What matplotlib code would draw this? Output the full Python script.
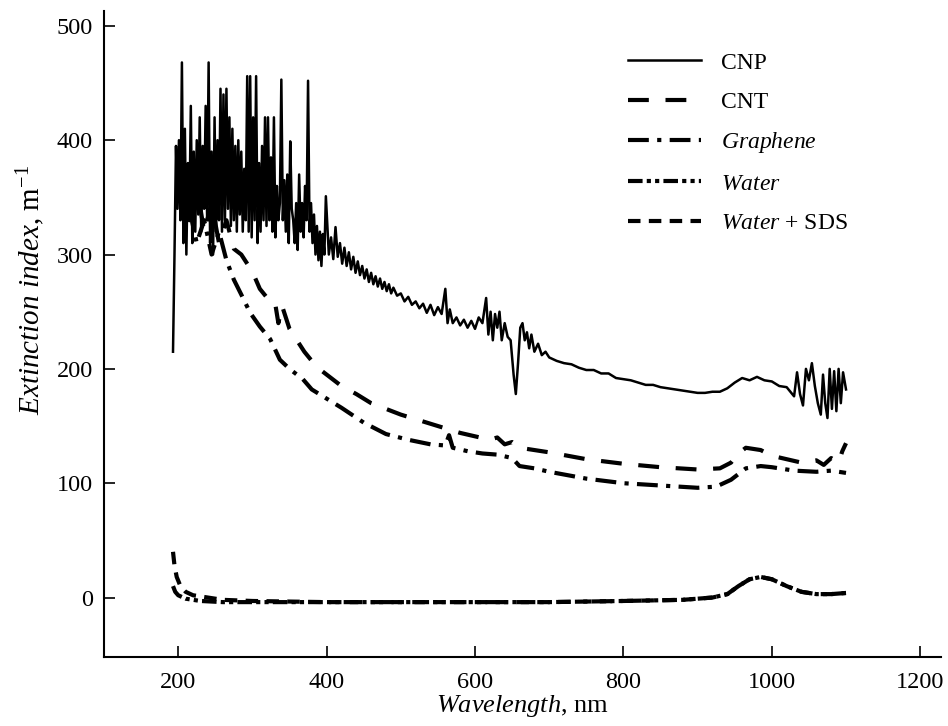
import matplotlib
matplotlib.use("Agg")
import matplotlib.pyplot as plt

plt.rcParams['font.family'] = ['Liberation Serif', 'DejaVu Serif']
plt.rcParams['mathtext.fontset'] = 'custom'
plt.rcParams['mathtext.rm'] = 'Liberation Serif'
plt.rcParams['mathtext.it'] = 'Liberation Serif:italic'

# CNP spectrum: 2 nm grid over the noisy UV part, coarser after that
cnp_nm = list(range(193, 401, 2)) + [
    403, 406, 409, 412, 415, 418, 421, 424, 427, 430, 433, 436, 439, 442, 445, 448,
    451, 454, 457, 460, 463, 466, 469, 472, 475, 478, 481, 484, 487, 490, 495, 500,
    505, 510, 515, 520, 525, 530, 535, 540, 545, 550, 555, 560, 563, 566, 570, 575,
    580, 585, 590, 595, 600, 605, 610, 615, 618, 621, 624, 627, 630, 633, 636, 640,
    644, 648, 652, 655, 658, 661, 664, 667, 670, 673, 676, 680, 685, 690, 695, 700,
    710, 720, 730, 740, 750, 760, 770, 780, 790, 800, 810, 820, 830, 840, 850, 860,
    870, 880, 890, 900, 910, 920, 930, 940, 950, 960, 970, 980, 990, 1000, 1010, 1020,
    1025, 1030, 1034, 1038, 1042, 1046, 1050, 1054, 1058, 1062, 1066, 1069, 1072, 1075,
    1078, 1081, 1084, 1087, 1090, 1093, 1096, 1100]
cnp_val = [
    215, 300, 395, 340, 400, 330, 468, 310, 410, 300, 380, 330, 430, 310, 390, 320,
    400, 335, 420, 320, 395, 340, 430, 330, 468, 310, 390, 300, 420, 320, 400, 330,
    445, 320, 440, 330, 445, 340, 420, 325, 410, 330, 395, 320, 400, 335, 390, 320,
    375, 330, 456, 320, 456, 315, 420, 330, 456, 310, 380, 320, 395, 330, 420, 325,
    420, 330, 385, 320, 420, 315, 360, 330, 345, 453, 330, 365, 320, 370, 310, 399,
    340, 330, 310, 345, 304, 370, 320, 345, 315, 360, 330, 452, 320, 345, 310, 335,
    300, 325, 295, 320, 290, 318, 300, 351,
    300, 315, 296, 324, 298, 310, 292, 306, 290, 302, 287, 298, 284, 294, 282, 290,
    279, 287, 276, 284, 274, 281, 272, 279, 270, 276, 268, 274, 266, 271, 264, 266,
    259, 263, 256, 259, 253, 257, 249, 256, 247, 254, 248, 270, 240, 252, 240, 245,
    238, 243, 236, 242, 235, 245, 240, 262, 230, 250, 225, 248, 236, 250, 225, 240,
    228, 225, 195, 178, 205, 236, 240, 225, 232, 218, 230, 215, 222, 212, 215, 210,
    207, 205, 204, 201, 199, 199, 196, 196, 192, 191, 190, 188, 186, 186, 184, 183,
    182, 181, 180, 179, 179, 180, 180, 183, 188, 192, 190, 193, 190, 189, 185, 184,
    180, 176, 197, 178, 168, 200, 190, 205, 185, 170, 160, 195, 170, 157,
    200, 165, 198, 163, 200, 170, 197, 182]

cnt_nm = [205, 215, 225, 235, 245, 255, 265, 275, 285, 295, 300, 310, 320, 330, 335, 340,
          350, 360, 370, 380, 390, 400, 420, 440, 460, 480, 500, 520, 540, 560, 580, 600,
          620, 630, 640, 650, 660, 680, 700, 750, 800, 850, 900, 930, 945, 955, 965, 985,
          1000, 1020, 1040, 1060, 1070, 1080, 1090, 1095, 1100]
cnt_val = [380, 330, 360, 320, 345, 310, 330, 305, 300, 290, 285, 270, 262, 260, 240, 255,
           235, 225, 215, 207, 200, 195, 185, 178, 170, 165, 160, 156, 152, 148, 144, 141,
           138, 140, 134, 136, 131, 129, 127, 121, 117, 114, 112, 113, 118, 126, 131, 129,
           124, 121, 118, 120, 116, 122, 118, 128, 135]

gra_nm = [215, 225, 235, 245, 255, 265, 275, 285, 297, 310, 324, 337, 350, 368, 380, 395,
          420, 450, 480, 510, 540, 560, 565, 570, 590, 610, 630, 650, 660, 680, 700, 750,
          800, 850, 900, 925, 945, 965, 985, 1000, 1030, 1060, 1080, 1100]
gra_val = [340, 310, 330, 300, 320, 295, 278, 265, 249, 237, 226, 208, 200, 191, 182, 176,
           166, 153, 143, 138, 134, 133, 142, 131, 128, 126, 125, 122, 115, 113, 110, 104,
           100, 98, 96, 97, 103, 113, 115, 114, 111, 110, 111, 109]

water_nm = [193, 196, 200, 210, 230, 260, 300, 400, 500, 600, 700, 800, 880, 920, 940,
            955, 970, 985, 1000, 1020, 1040, 1060, 1080, 1100]
water_val = [10, 5, 2, -1, -3, -4, -4, -4, -4, -4, -4, -3, -2, 0, 3,
             10, 16, 18, 16, 10, 5, 3, 3, 4]

sds_nm = [193, 195, 198, 203, 210, 220, 240, 260, 300, 400, 500, 600, 700, 800, 880,
          920, 940, 955, 970, 985, 1000, 1020, 1040, 1060, 1080, 1100]
sds_val = [40, 28, 18, 10, 5, 2, 0, -2, -3, -4, -4, -4, -4, -3, -2,
           0, 3, 10, 16, 18, 16, 10, 5, 3, 3, 4]

fig = plt.figure(figsize=(9.48, 7.26), dpi=100)
ax = fig.add_axes([104 / 948, 69 / 726, 837 / 948, 646 / 726])

ax.plot(cnp_nm, cnp_val, color='black', lw=1.8, ls='-', label='CNP')
ax.plot(cnt_nm, cnt_val, color='black', lw=3, ls=(0, (5, 4)), label='CNT')
ax.plot(gra_nm, gra_val, color='black', lw=3, ls=(0, (5, 2, 1, 2)), label=r'$\it{Graphene}$')
ax.plot(water_nm, water_val, color='black', lw=3, ls=(0, (3.5, 1, 1, 1, 1, 1)), label=r'$\it{Water}$')
ax.plot(sds_nm, sds_val, color='black', lw=3, ls=(0, (3, 2)), label=r'$\it{Water}$ + SDS')

ax.set_xlim(100, 1228)
ax.set_ylim(-52, 513)
ax.set_xticks([200, 400, 600, 800, 1000, 1200])
ax.set_yticks([0, 100, 200, 300, 400, 500])
ax.spines['top'].set_visible(False)
ax.spines['right'].set_visible(False)
ax.spines['left'].set_linewidth(1.5)
ax.spines['bottom'].set_linewidth(1.5)
ax.tick_params(direction='in', length=8, width=1.2, labelsize=17.5)
ax.tick_params(axis='x', pad=11)
ax.tick_params(axis='y', pad=8)

ax.set_xlabel(r'$\it{Wavelength}$, nm', fontsize=19, labelpad=0)
ax.set_ylabel(r'$\it{Extinction\ index}$, m$^{-1}$', fontsize=21)
ax.yaxis.set_label_coords(-0.068, 0.568)

ax.legend(loc='upper left', bbox_to_anchor=(628 / 948, 674 / 726),
          bbox_transform=fig.transFigure, frameon=False, fontsize=17,
          handlelength=3.1, handletextpad=0.85, labelspacing=0.75,
          borderpad=0, borderaxespad=0)

fig.savefig('out.png', dpi=100)
